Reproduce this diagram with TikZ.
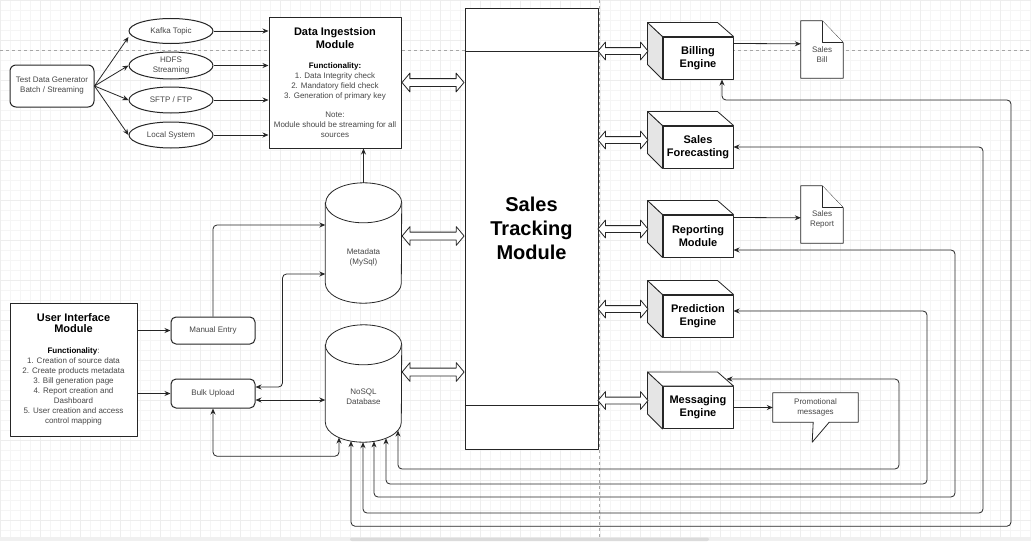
\documentclass[tikz,border=0pt]{standalone}
\usepackage{fontspec}
\setmainfont{Liberation Sans}
\usetikzlibrary{calc,shapes.geometric,shapes.arrows,arrows.meta}

\newcommand{\ttl}{\fontsize{11}{13}\selectfont\bfseries\color{black}}

\tikzset{
  line/.style={draw=black!85, line width=0.8pt},
  box/.style={line, fill=white, line width=1pt, align=center, inner sep=0pt, text=black!72},
  rbox/.style={box, rounded corners=5pt, minimum width=84pt},
  src/.style={box, ellipse, minimum width=84pt, minimum height=25pt},
  cube/.style={box, minimum width=70pt, minimum height=42pt, font=\fontsize{11}{13}\selectfont\bfseries, text=black},
  plain/.style={align=center, inner sep=0pt, text=black!72},
  hollow/.style={double arrow, line, fill=white, inner xsep=0pt, inner ysep=3.5pt, double arrow head extend=5.5pt, double arrow tip angle=100},
  conn/.style={line, ->, rounded corners=4pt},
  bconn/.style={line, <->, rounded corners=4pt},
}

\begin{document}
\begin{tikzpicture}[x=1pt, y=-1pt, >={Stealth[length=6pt,width=5pt]}, line join=round, font=\fontsize{8}{10}\selectfont]
\useasboundingbox (0,0) rectangle (1031,541);
% page background
\fill[white] (0,0) rectangle (1031,541);
\draw[black!4, step=10pt] (0,537) grid (1031,0);
\draw[black!7, step=40pt] (0,537) grid (1031,0);
\draw[black!35, dash pattern=on 3pt off 3pt] (0,50) -- (1031,50);
\draw[black!35, dash pattern=on 3pt off 3pt] (599,0) -- (599,537);
\fill[black!6] (0,537) rectangle (1031,541);
\fill[black!14, rounded corners=2pt] (350,537.5) rectangle (709,541);

% sources
\node[rbox, minimum height=42pt, rounded corners=6pt] (gen) at (52,86) {Test Data Generator\\Batch / Streaming};
\node[src] (kafka) at (171,31) {Kafka Topic};
\node[src, minimum height=27pt] (hdfs) at (171,65.5) {HDFS\\Streaming};
\node[src, minimum height=26pt] (sftp) at (171,100) {SFTP / FTP};
\node[src, minimum height=26pt] (locsys) at (171,135) {Local System};

\node[box, minimum width=132pt, minimum height=131pt] (ingest) at (335,82.5) {{\ttl Data Ingestsion}\\[1.5pt]{\ttl Module}\\[10pt]\textbf{\color{black}Functionality:}\\1. Data Integrity check\\2. Mandatory field check\\3. Generation of primary key\\[9pt]Note:\\Module should be streaming for all\\sources};

\node[box, minimum width=133pt, minimum height=441pt, font=\fontsize{20}{24}\selectfont\bfseries, text=black] (stm) at (531.5,228.5) {Sales\\Tracking\\Module};
\draw[line] ($(stm.north west)+(0,44)$) -- ($(stm.north east)+(0,44)$);
\draw[line] ($(stm.south west)+(0,-44)$) -- ($(stm.south east)+(0,-44)$);

% databases
\node[minimum width=76pt, minimum height=120pt, inner sep=0pt] (meta) at (363.5,243) {};
\node[minimum width=76pt, minimum height=117pt, inner sep=0pt] (nosql) at (363.5,383.5) {};
\foreach \d in {meta,nosql}{
  \draw[line, fill=white] ($(\d.north west)+(0,20)$) -- ($(\d.south west)+(0,-20)$) arc[start angle=180, end angle=0, x radius=38, y radius=20] -- ($(\d.north east)+(0,20)$) arc[start angle=0, end angle=-180, x radius=38, y radius=20] -- cycle;
  \draw[line] ($(\d.north west)+(0,20)$) arc[start angle=180, end angle=0, x radius=38, y radius=20];
}
\node[plain] (metatxt) at ($(meta)+(0,14)$) {Metadata\\(MySql)};
\node[plain] (nosqltxt) at ($(nosql)+(0,13.5)$) {NoSQL\\Database};

% user side
\node[box, minimum width=127pt, minimum height=133pt] (ui) at (73.5,369.5) {{\ttl User Interface}\\[1.5pt]{\ttl Module}\\[11pt]\textbf{\color{black}Functionality}:\\1. Creation of source data\\2. Create products metadata\\3. Bill generation page\\4. Report creation and\\Dashboard\\5. User creation and access\\control mapping};
\node[rbox, minimum height=27pt] (manual) at (213,330.5) {Manual Entry};
\node[rbox, minimum height=29pt] (bulk) at (213,393.5) {Bulk Upload};

% engines
\node[cube] (bill) at (698,58) {Billing\\Engine};
\node[cube] (fore) at (698,147) {Sales\\Forecasting};
\node[cube] (rep) at (698,236) {Reporting\\Module};
\node[cube] (pred) at (698,316) {Prediction\\Engine};
\node[cube] (msg) at (698,407.5) {Messaging\\Engine};
\foreach \c in {bill,fore,rep,pred,msg}{
  \draw[line, fill=black!10] (\c.north west) -- ++(-15,-14) -- ++(0,42) -- (\c.south west) -- cycle;
  \draw[line, fill=white] (\c.north west) -- ++(-15,-14) -- ++(70,0) -- (\c.north east) -- cycle;
}

% outputs
\node[minimum width=42pt, minimum height=57pt, inner sep=0pt] (sbill) at (822,49.5) {};
\node[minimum width=42pt, minimum height=57pt, inner sep=0pt] (srep) at (822,214.5) {};
\foreach \d in {sbill,srep}{
  \draw[line, fill=white] (\d.north west) -- ($(\d.north east)+(-21,0)$) -- ($(\d.north east)+(0,22)$) -- (\d.south east) -- (\d.south west) -- cycle;
  \draw[line, fill=white] ($(\d.north east)+(-21,0)$) -- ++(0,22) -- ++(21,0);
}
\node[plain] (sbilltxt) at ($(sbill)+(0,5.5)$) {Sales\\Bill};
\node[plain] (sreptxt) at ($(srep)+(0,5)$) {Sales\\Report};

\node[plain, fill=white, minimum width=85pt, minimum height=29pt] (promo) at (815.5,407.5) {Promotional\\messages};
\fill[white] ($(promo.south east)+(-29,0)$) -- ++(-17,20) -- ++(1,-20) -- cycle;
\draw[line] (promo.north west) -- (promo.north east) -- (promo.south east) -- ++(-29,0) -- ++(-17,20) -- ++(1,-20) -- (promo.south west) -- cycle;

% hollow links to the tracking module
\node[hollow, minimum height=62pt] (h1) at ($(ingest.east)!.5!(stm.west |- ingest.east)$) {};
\node[hollow, minimum height=62pt] (h2) at ($(meta.east)!.5!(stm.west |- meta.east)+(0,-7)$) {};
\node[hollow, minimum height=62pt] (h3) at ($(nosql.east)!.5!(stm.west |- nosql.east)+(0,-11.5)$) {};
\foreach \c in {bill,fore,rep,pred,msg}
  \node[hollow, minimum height=50pt, inner ysep=3pt] (h-\c) at ($(stm.east |- \c.west)!.5!(\c.west)+(-7.5,-7)$) {};

% connectors
\draw[conn] (gen.east) -- ([yshift=-6pt]kafka.west);
\foreach \s in {hdfs,sftp,locsys}
  \draw[conn] (gen.east) -- (\s.west);
\foreach \s in {kafka,hdfs,sftp,locsys}
  \draw[conn] (\s.east) -- (\s.east -| ingest.west);
\draw[conn] (meta.north) -- (meta.north |- ingest.south);
\draw[conn] (ui.east |- manual.west) -- (manual.west);
\draw[conn] (ui.east |- bulk.west) -- (bulk.west);
\draw[conn] (manual.north) |- ($(meta.west)+(0,-18)$);
\draw[bconn] ($(bulk.east)+(0,-6.5)$) -- ++(27,0) |- ($(meta.west)+(0,31)$);
\coordinate (b2) at ($(bulk.east)+(0,6.5)$);
\draw[bconn] (b2) -- (b2 -| nosql.west);
\draw[bconn] (bulk.south) |- ($(nosql.south)+(-24.5,14)$) -- ($(nosql.south)+(-24.5,-4.7)$);

% feedback loops
\draw[bconn] ($(bill.south)+(24,0)$) |- (1011,100) |- ($(nosql.south)+(-12.5,84)$) -- ($(nosql.south)+(-12.5,-1.1)$);
\draw[bconn] (fore.east) -| (983,513) -| ($(nosql.south)+(-0.5,0)$);
\draw[bconn] ($(rep.east)+(0,14)$) -| (955,497) -| ($(nosql.south)+(10.5,-0.8)$);
\draw[bconn] ($(pred.east)+(0,-5)$) -| (927,484) -| ($(nosql.south)+(22.5,-3.9)$);
\draw[bconn] ($(msg.north east)+(-7,-7)$) -| (899,469) -| ($(nosql.south)+(34.5,-11.6)$);

\draw[conn] ($(bill.north east)+(0,7)$) -- ($(sbill.north west)+(0,23)$);
\draw[conn] ($(rep.north east)+(0,3)$) -- ($(srep.north west)+(0,32)$);
\draw[conn] (msg.east) -- (promo.west);
\end{tikzpicture}
\end{document}
